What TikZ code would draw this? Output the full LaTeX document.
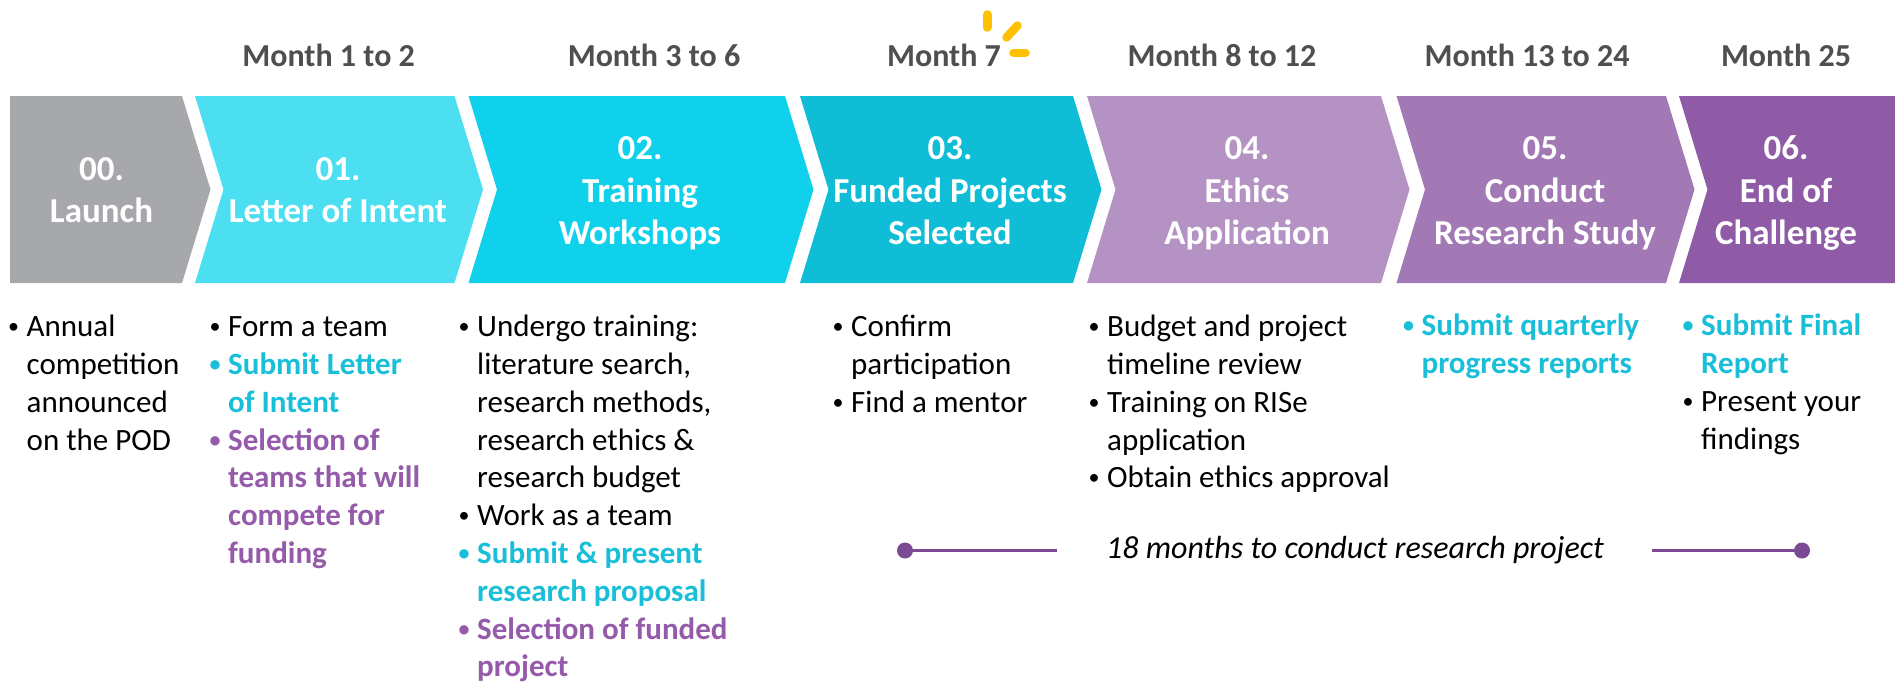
\documentclass[tikz,border=0pt]{standalone}
\usepackage{fontspec}
\setmainfont{Carlito}
\definecolor{c0}{HTML}{A7A8AC}
\definecolor{c1}{HTML}{4BDFF1}
\definecolor{c2}{HTML}{10D1EB}
\definecolor{c3}{HTML}{0FBDD6}
\definecolor{c4}{HTML}{B592C4}
\definecolor{c5}{HTML}{A278B5}
\definecolor{c6}{HTML}{8F5BA6}
\definecolor{monthgray}{HTML}{4F4F52}
\definecolor{cyt}{HTML}{19BFD8}
\definecolor{put}{HTML}{955AAA}
\definecolor{tline}{HTML}{7B4A93}
\definecolor{spark}{HTML}{FFC000}
\newcommand\bul{\leavevmode\llap{\makebox[13pt][l]{\makebox[0pt][c]{\raisebox{3pt}{\fontsize{22}{22}\selectfont\textbullet}}}}}
\newcommand\cyl[1]{{\color{cyt}\bfseries #1}}
\newcommand\pul[1]{{\color{put}\bfseries #1}}
\newcommand\chev[4]{\fill[#1] (#2,96) -- (#3,96) -- ++(#4,93.5) -- (#3,283) -- (#2,283) -- ++(#4,-93.5) -- cycle;}
\begin{document}
\begin{tikzpicture}[x=1pt,y=-1pt,
  month/.style={anchor=base, inner sep=0, text=monthgray, font=\fontsize{32}{38}\selectfont\bfseries},
  title/.style={anchor=north, inner sep=0, align=center, text=white, font=\fontsize{35}{42.5}\selectfont\bfseries},
  body/.style={anchor=north west, inner sep=0, align=left, text=black, font=\fontsize{31}{37.8}\selectfont},
  tl/.style={draw=tline, line width=3.3pt},
  tdot/.style={fill=tline},
  sparkline/.style={draw=spark, line width=8.5pt, line cap=round}]
\useasboundingbox (0,0) rectangle (1895,686);
\fill[white] (0,0) rectangle (1895,686);
% chevrons
\fill[c0] (10,96) -- (182,96) -- (210.5,189.5) -- (182,283) -- (10,283) -- cycle;
\chev{c1}{195}{454.5}{28.5}
\chev{c2}{468.5}{785}{28.5}
\chev{c3}{800}{1073}{28.5}
\chev{c4}{1087}{1381}{28.5}
\chev{c5}{1396.5}{1666}{28.5}
\fill[c6] (1679,96) -- (1895,96) -- (1895,283) -- (1679,283) -- ++(28.5,-93.5) -- cycle;
% month labels
\node[month] (m1) at (328.6,66) {Month 1 to 2};
\node[month] (m2) at (654,66) {Month 3 to 6};
\node[month] (m3) at (944,66) {Month 7};
\node[month] (m4) at (1222,66) {Month 8 to 12};
\node[month] (m5) at (1527,66) {Month 13 to 24};
\node[month] (m6) at (1786,66) {Month 25};
% spark
\coordinate (s1a) at (987.4,14.5);
\coordinate (s1b) at (987.4,27.5);
\coordinate (s2a) at (1017.5,25.5);
\coordinate (s2b) at (1006.5,37.5);
\coordinate (s3a) at (1013.5,52.8);
\coordinate (s3b) at (1025.5,52.8);
\draw[sparkline] (s1a) -- (s1b);
\draw[sparkline] (s2a) -- (s2b);
\draw[sparkline] (s3a) -- (s3b);
% titles
\node[title] (t0) at (101.5,150.25) {\strut 00.\\\strut Launch};
\node[title] (t1) at (338,150.25) {\strut 01.\\\strut Letter of Intent};
\node[title] (t2) at (640,129.75) {\strut 02.\\\strut Training\\\strut Workshops};
\node[title] (t3) at (950,129.75) {\strut 03.\\\strut Funded Projects\\\strut Selected};
\node[title] (t4) at (1247,129.75) {\strut 04.\\\strut Ethics\\\strut Application};
\node[title] (t5) at (1545,129.75) {\strut 05.\\\strut Conduct\\\strut Research Study};
\node[title] (t6) at (1786,129.75) {\strut 06.\\\strut End of\\\strut Challenge};
% bullet lists
\node[body] (b0) at (26.5,310) {\strut\bul Annual\\competition\\announced\\on the POD};
\node[body] (b1) at (228,310) {\strut\bul Form a team\\\cyl{\bul Submit Letter}\\\cyl{of Intent}\\\pul{\bul Selection of}\\\pul{teams that will}\\\pul{compete for}\\\pul{funding}};
\node[body] (b2) at (477,310) {\strut\bul Undergo training:\\literature search,\\research methods,\\research ethics \&\\research budget\\\bul Work as a team\\\cyl{\bul Submit \& present}\\\cyl{research proposal}\\\pul{\bul Selection of funded}\\\pul{project}};
\node[body] (b3) at (851,310) {\strut\bul Confirm\\participation\\\bul Find a mentor};
\node[body] (b4) at (1107,310) {\strut\bul Budget and project\\timeline review\\\bul Training on RISe\\application\\\bul Obtain ethics approval};
\node[body] (b5) at (1421.5,309) {\strut\cyl{\bul Submit quarterly}\\\cyl{progress reports}};
\node[body] (b6) at (1701,309) {\strut\cyl{\bul Submit Final}\\\cyl{Report}\\\bul Present your\\findings};
% timeline
\node[anchor=base, inner sep=0, font=\fontsize{32}{38}\selectfont\itshape] (tt) at (1355,558.5) {18 months to conduct research project};
\coordinate (la) at (905,550.5);
\coordinate (lb) at (1057,550.5);
\coordinate (ra) at (1652,550.5);
\coordinate (rb) at (1802,550.5);
\draw[tl] (la) -- (lb);
\draw[tl] (ra) -- (rb);
\fill[tdot] (la) circle (8);
\fill[tdot] (rb) circle (8);
\end{tikzpicture}
\end{document}
